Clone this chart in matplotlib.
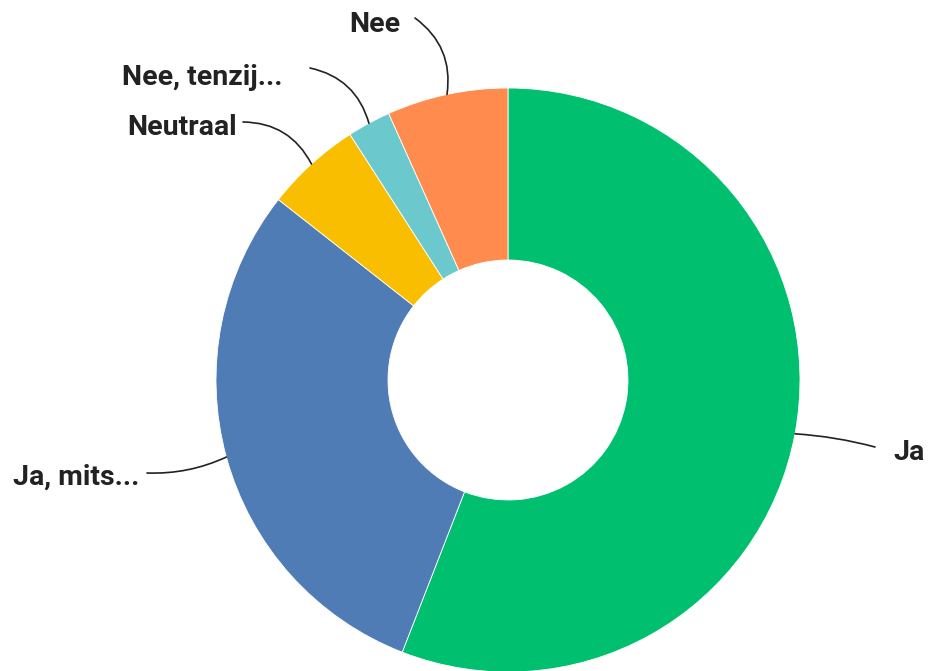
import numpy as np
import matplotlib.pyplot as plt

# answer shares (%), clockwise from the top
labels = ["Ja", "Ja, mits...", "Neutraal", "Nee, tenzij...", "Nee"]
values = [55.9, 29.7, 5.3, 2.4, 6.7]
colors = ["#00BF6F", "#507CB6", "#F9BE00", "#6BC8CD", "#FF8B4F"]

W, H = 930, 671
fig = plt.figure(figsize=(W / 100, H / 100), dpi=100)
ax = fig.add_axes([0, 0, 1, 1])

cx, cy, r_out, r_in = 508, H - 380, 292, 120
wedges, _ = ax.pie(values, colors=colors, startangle=90, counterclock=False,
                   center=(cx, cy), radius=r_out,
                   wedgeprops=dict(width=r_out - r_in, edgecolor="white", linewidth=0.6))
ax.set_xlim(0, W)
ax.set_ylim(0, H)
ax.set_aspect("equal")
ax.axis("off")

# label layout (pixels from top-left): text anchor, text alignment, leader start, curvature
text_pos = [(893, 460), (13, 485), (237, 135), (282, 85), (400, 32)]
text_ha = ["left", "left", "right", "right", "right"]
lead_start = [(875, 447), (147, 473), (243, 122), (310, 68), (415, 18)]
lead_rad = [0.05, 0.12, -0.3, -0.3, -0.3]

for w, lab, (tx, ty), ha, (sx, sy), rad in zip(wedges, labels, text_pos, text_ha,
                                              lead_start, lead_rad):
    mid = np.deg2rad((w.theta1 + w.theta2) / 2)
    ex, ey = cx + r_out * np.cos(mid), cy + r_out * np.sin(mid)
    ax.text(tx, H - ty, lab, ha=ha, va="baseline", fontsize=20.5,
            family="Roboto", fontweight="bold", color="#222222")
    ax.annotate("", xy=(ex, ey), xytext=(sx, H - sy),
                arrowprops=dict(arrowstyle="-", color="#222222", lw=1.2,
                                shrinkA=0, shrinkB=0,
                                connectionstyle=f"arc3,rad={rad}"))

fig.savefig("out.png", dpi=100)
